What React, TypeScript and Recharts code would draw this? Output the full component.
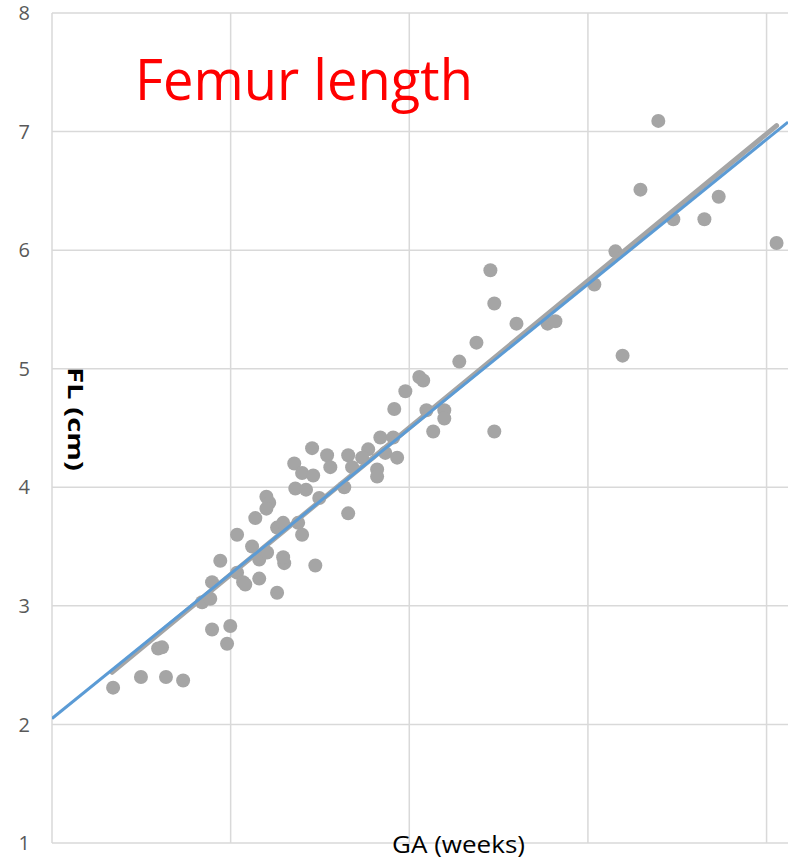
import { CartesianGrid, Scatter, ScatterChart, XAxis, YAxis } from "recharts";

// GA (weeks) vs FL (cm)
const gaWeeks = [
  16.71, 17.49, 18.19, 18.67, 17.97, 18.08, 19.48, 19.99, 19.9, 19.2,
  19.43, 19.48, 19.71, 20.18, 20.35, 20.41, 20.8, 21.3, 20.8, 21.5,
  21.47, 22.37, 20.18, 20.6, 21.02, 20.69, 21.3, 21.47, 21.89, 22.0,
  21.0, 21.08, 21.0, 21.81, 22.11, 22.48, 23.18, 23.29, 21.78, 22.0,
  22.31, 22.28, 22.7, 22.79, 23.29, 23.4, 23.85, 24.1, 24.1, 23.68,
  24.19, 24.55, 24.33, 24.66, 24.58, 24.89, 25.28, 25.39, 25.48, 25.67,
  25.98, 25.98, 26.4, 26.88, 27.27, 27.38, 27.38, 28.0, 28.87, 29.09,
  30.18, 30.77, 30.97, 31.47, 31.97, 32.39, 33.26, 33.66, 35.28,
];
const flCm = [
  2.31, 2.4, 2.4, 2.37, 2.64, 2.65, 2.8, 2.83, 2.68, 3.03,
  3.06, 3.2, 3.38, 3.28, 3.2, 3.18, 3.23, 3.11, 3.39, 3.36,
  3.41, 3.34, 3.6, 3.5, 3.45, 3.74, 3.66, 3.7, 3.7, 3.6,
  3.92, 3.87, 3.82, 3.99, 3.98, 3.91, 4.0, 3.78, 4.2, 4.12,
  4.1, 4.33, 4.27, 4.17, 4.27, 4.17, 4.32, 4.15, 4.09, 4.25,
  4.42, 4.42, 4.29, 4.25, 4.66, 4.81, 4.93, 4.9, 4.65, 4.47,
  4.65, 4.58, 5.06, 5.22, 5.83, 5.55, 4.47, 5.38, 5.38, 5.4,
  5.71, 5.99, 5.11, 6.51, 7.09, 6.26, 6.26, 6.45, 6.06,
];

// trend line end points
const blueTrendX = [15, 35.6];
const blueTrendY = [2.05, 7.08];
const grayTrendX = [16.68, 35.28];
const grayTrendY = [2.44, 7.05];

const xDomain = [15, 35.6];
const xTicks = [15, 20, 25, 30, 35];
const yTicks = [1, 2, 3, 4, 5, 6, 7, 8];

const points = gaWeeks.map((x, i) => ({ x, y: flCm[i] }));
const blueTrend = blueTrendX.map((x, i) => ({ x, y: blueTrendY[i] }));
const grayTrend = grayTrendX.map((x, i) => ({ x, y: grayTrendY[i] }));

const W = 788;
const H = 862;

const Dot = (props: any) => <circle cx={props.cx} cy={props.cy} r={7} fill="#A5A5A5" />;
const NoDot = () => <g />;

// vertical grid at the (hidden) x ticks
const verticalGrid = ({ offset }: any) =>
  xTicks.map((t) => offset.left + ((t - xDomain[0]) / (xDomain[1] - xDomain[0])) * offset.width);

export default function App() {
  return (
    <div style={{ position: "absolute", left: 0, top: 0, width: W, height: H, background: "#fff" }}>
      <ScatterChart width={W} height={H} margin={{ top: 13, right: 0, bottom: 0, left: 0 }}>
        <CartesianGrid stroke="#D9D9D9" strokeWidth={1.5} verticalCoordinatesGenerator={verticalGrid} />
        <XAxis
          type="number"
          dataKey="x"
          domain={xDomain}
          ticks={xTicks}
          allowDataOverflow
          tick={false}
          tickLine={false}
          axisLine={false}
          height={19}
        />
        <YAxis
          type="number"
          dataKey="y"
          domain={[1, 8]}
          ticks={yTicks}
          allowDataOverflow
          width={52}
          tickLine={false}
          axisLine={false}
          tickMargin={16}
          tick={{ fill: "#595959", fontSize: 20, fontFamily: "Open Sans" }}
        />
        <Scatter data={points} shape={Dot} isAnimationActive={false} />
        <Scatter
          data={grayTrend}
          shape={NoDot}
          line={{ stroke: "#A5A5A5", strokeWidth: 5, strokeLinecap: "round" }}
          isAnimationActive={false}
        />
        <Scatter
          data={blueTrend}
          shape={NoDot}
          line={{ stroke: "#5B9BD5", strokeWidth: 3 }}
          isAnimationActive={false}
        />
      </ScatterChart>
      <svg width={W} height={H} style={{ position: "absolute", left: 0, top: 0, pointerEvents: "none" }}>
        <text
          x={135}
          y={100}
          fill="#FF0000"
          fontSize={57}
          fontFamily="Open Sans"
          textLength={338}
          lengthAdjust="spacingAndGlyphs"
        >
          Femur length
        </text>
        <text
          x={392}
          y={853}
          fill="#000"
          fontSize={24}
          fontFamily="Open Sans"
          textLength={133}
          lengthAdjust="spacingAndGlyphs"
        >
          GA (weeks)
        </text>
        <text
          transform="translate(68, 367) rotate(90)"
          fill="#000"
          fontSize={22}
          fontWeight="bold"
          fontFamily="Open Sans"
          textLength={104}
          lengthAdjust="spacingAndGlyphs"
        >
          FL (cm)
        </text>
      </svg>
    </div>
  );
}
